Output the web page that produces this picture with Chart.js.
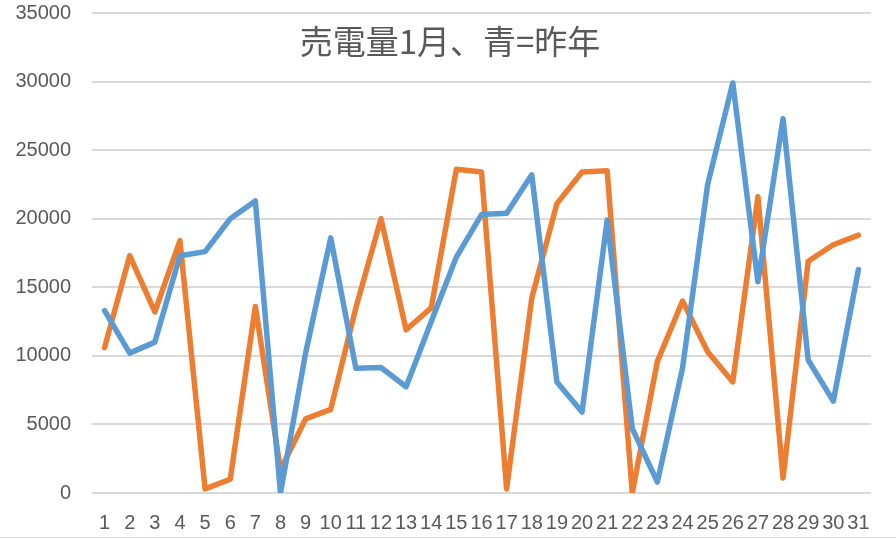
<!DOCTYPE html>
<html>
<head>
<meta charset="utf-8">
<script src="https://cdn.jsdelivr.net/npm/chart.js@4/dist/chart.umd.min.js"></script>
<style>
  html, body { margin: 0; padding: 0; background: #fff; }
  #wrap { position: relative; width: 896px; height: 539px; }
  #line { position: absolute; left: 0; top: 537px; width: 896px; height: 1px; background: #d9d9d9; }
</style>
</head>
<body>
<div id="wrap">
  <canvas id="chart" width="896" height="539"></canvas>
  <div id="line"></div>
</div>
<script>
const chartTitle = '売電量1月、青=昨年';
const days = ['1','2','3','4','5','6','7','8','9','10','11','12','13','14','15','16','17','18','19','20','21','22','23','24','25','26','27','28','29','30','31'];
// blue = last year
const lastYear = [13300, 10200, 11000, 17300, 17600, 20000, 21300, 0, 10200, 18600, 9100, 9150, 7750, 12500, 17200, 20300, 20400, 23200, 8100, 5900, 19900, 4700, 800, 9100, 22500, 29900, 15400, 27300, 9700, 6700, 16300];
// orange = this year
const thisYear = [10600, 17300, 13200, 18400, 300, 1000, 13600, 1700, 5400, 6100, 13500, 20000, 11900, 13500, 23600, 23400, 300, 14200, 21100, 23400, 23500, 0, 9600, 14000, 10300, 8100, 21600, 1100, 16900, 18100, 18800];
const yTicks = [0, 5000, 10000, 15000, 20000, 25000, 30000, 35000];

const textColor = '#595959';

// title is drawn over the plot like in Excel, so it takes no layout space
const overlayTitle = {
    id: 'overlayTitle',
    afterDraw: function(chart) {
        const ctx = chart.ctx;
        ctx.save();
        ctx.font = '33px "Noto Sans CJK JP"';
        ctx.fillStyle = textColor;
        ctx.textAlign = 'center';
        ctx.textBaseline = 'middle';
        ctx.fillText(chartTitle, 450, 41);
        ctx.restore();
    }
};

const ctx = document.getElementById('chart').getContext('2d');
new Chart(ctx, {
    type: 'line',
    data: {
        labels: days,
        datasets: [{
            label: '昨年',
            data: lastYear,
            borderColor: '#5b9bd5',
            backgroundColor: '#5b9bd5',
            borderWidth: 5.5,
            pointRadius: 0,
            tension: 0,
            borderJoinStyle: 'round',
            borderCapStyle: 'round'
        }, {
            label: '今年',
            data: thisYear,
            borderColor: '#ed7d31',
            backgroundColor: '#ed7d31',
            borderWidth: 5.5,
            pointRadius: 0,
            tension: 0,
            borderJoinStyle: 'round',
            borderCapStyle: 'round'
        }]
    },
    options: {
        responsive: false,
        animation: false,
        layout: { padding: { left: 15, right: 25, top: 13, bottom: 0 } },
        plugins: {
            legend: { display: false },
            title: { display: false },
            tooltip: { enabled: false }
        },
        scales: {
            x: {
                offset: true,
                afterFit: function(axis) {
                    axis.height = 46;
                    axis.paddingLeft = 0;
                    axis.paddingRight = 0;
                },
                grid: { display: false, drawTicks: false },
                border: { display: false },
                ticks: {
                    color: textColor,
                    font: { family: 'Liberation Sans', size: 20 },
                    autoSkip: false,
                    maxRotation: 0,
                    padding: 18
                }
            },
            y: {
                min: 0,
                max: 35000,
                afterBuildTicks: function(axis) {
                    axis.ticks = yTicks.map(function(v) { return { value: v }; });
                },
                afterFit: function(axis) {
                    axis.width = 77;
                    axis.paddingTop = 0;
                    axis.paddingBottom = 0;
                },
                grid: { color: '#d9d9d9', lineWidth: 2, drawTicks: false },
                border: { display: false },
                ticks: {
                    color: textColor,
                    font: { family: 'Liberation Sans', size: 20 },
                    padding: 21,
                    callback: function(v) { return String(v); }
                }
            }
        }
    },
    plugins: [overlayTitle]
});
</script>
</body>
</html>
